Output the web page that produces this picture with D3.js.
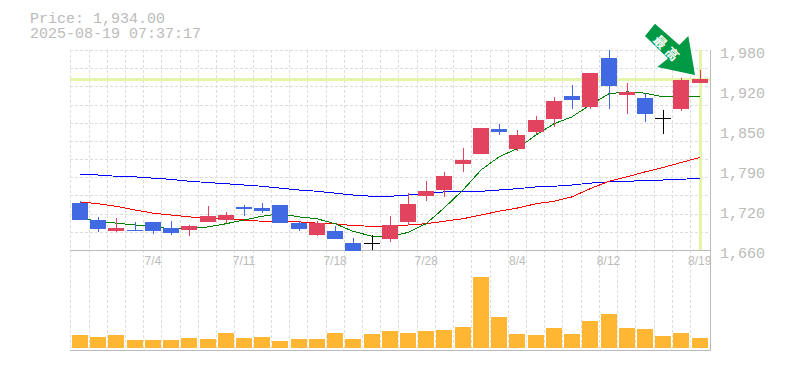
<!DOCTYPE html>
<html>
<head>
<meta charset="utf-8">
<script src="https://cdn.jsdelivr.net/npm/d3@7"></script>
<style>
  html, body { margin: 0; padding: 0; background: #fff; }
  svg { display: block; }
  text { font-family: "Liberation Mono", monospace; fill: #bbb; }
</style>
</head>
<body>
<div id="main"></div>
<script>
var dates = ["6/30","7/1","7/2","7/3","7/4","7/7","7/8","7/9","7/10","7/11",
  "7/14","7/15","7/16","7/17","7/18","7/22","7/23","7/24","7/25","7/28",
  "7/29","7/30","7/31","8/1","8/4","8/5","8/6","8/7","8/8","8/12",
  "8/13","8/14","8/15","8/18","8/19"];
var dateTicks = ["7/4","7/11","7/18","7/28","8/4","8/12","8/19"];
var priceLabels = ["1,980","1,920","1,850","1,790","1,720","1,660"];

var open = [1734.7,1708,1690.4,1692,1704.8,1695.2,1692,1704.8,1708,1728.8,
  1727.2,1732,1703.2,1684,1690.4,1671.2,1671.2,1677.6,1704.8,1746.4,
  1756,1797.6,1813.6,1853.6,1821.6,1848.8,1869.6,1906.4,1888.8,1967.2,
  1908,1903.2,1871.2,1885.6,1927.2];
var high = [1738.4,1712.3,1710.7,1704.3,1704.8,1706.4,1700,1730.4,1720.8,1732,
  1735.2,1732,1706.4,1706.4,1698.4,1679.2,1684,1714.4,1751.2,1770.4,
  1784.8,1823.2,1855.2,1861.6,1852,1874.4,1904.8,1924,1943.2,1980,
  1927.2,1911.2,1884,1935.2,1948];
var low = [1708,1689.3,1688.8,1689.9,1685.6,1684,1682.4,1704.8,1703.2,1714.4,
  1719.2,1703.2,1690.4,1682.4,1677.6,1658.4,1660,1672.8,1700,1738.4,
  1744.8,1784.8,1813.6,1844,1818.4,1845.6,1856.8,1885.6,1885.6,1885.6,
  1877.6,1864.8,1845.6,1882.4,1927.2];
var close = [1708,1693.6,1695.2,1690.4,1690.4,1687.2,1698.4,1714.4,1716,1725.6,
  1722.4,1703.2,1693.6,1703.2,1677.6,1658.4,1671.2,1700,1733.6,1754.4,
  1778.4,1804,1855.2,1848.8,1844,1868,1898.4,1900,1943.2,1922.4,
  1912.8,1877.6,1871.2,1932,1934];

var maShort = [1711,1706,1703,1700,1697,1694,1694,1697,1702,1708,
  1714,1718,1713,1710,1702,1690,1682,1682,1688,1702,
  1727,1756,1788,1809,1822,1844,1862,1873,1892,1910,
  1913,1911,1905,1905,1906];
var maMid = [1737,1734,1730,1724,1719,1716,1713,1711,1710,1708,
  1706,1705,1705,1703,1702,1699,1698,1698,1700,1702,
  1706,1710,1716,1722,1727,1734,1738,1745,1758,1770,
  1777,1785,1792,1800,1808];
var maLong = [1781,1780,1778,1777,1775,1773,1770,1768,1766,1764,
  1762,1759,1756,1754,1751,1748,1746,1746,1748,1750,
  1753,1754,1754,1756,1758,1761,1762,1764,1767,1769,
  1770,1771,1772,1773,1775];

var volume = [13,11,13,8,8,8,10,9,15,10,
  11,7,9,9,15,9,14,17,15,17,
  18,21,71,31,14,13,20,14,27,34,
  20,19,12,15,10];

var currentPrice = 1934;

var W = 785, H = 370;
var left = 70, right = 710, top_ = 50, mid = 250, bottom = 350;

var svg = d3.select("#main").append("svg")
    .attr("width", W)
    .attr("height", H);

var x = d3.scaleBand().domain(dates).range([70.8, 708.8]);
var cx = function(d) { return Math.round(x(d) + x.bandwidth() / 2); };
var y = d3.scaleLinear().domain([1660, 1980]).range([mid, top_]);
var yVol = d3.scaleLinear().domain([0, 71]).range([348, 277]);

// grid, 11 rows in the price panel, one column per day
var gridG = svg.append("g")
    .attr("stroke", "#ddd")
    .attr("stroke-dasharray", "3,2")
    .attr("shape-rendering", "crispEdges");
var rows = d3.scaleLinear().domain([0, 11]).range([top_, mid]);
gridG.selectAll("line.h").data(d3.range(0, 11)).enter().append("line")
    .attr("class", "h")
    .attr("x1", left).attr("x2", right)
    .attr("y1", function(d) { return Math.round(rows(d)) + 0.5; })
    .attr("y2", function(d) { return Math.round(rows(d)) + 0.5; });
gridG.selectAll("line.v").data(dates).enter().append("line")
    .attr("class", "v")
    .attr("y1", top_).attr("y2", bottom)
    .attr("x1", function(d) { return Math.round(x(d) - 0.5) + 0.5; })
    .attr("x2", function(d) { return Math.round(x(d) - 0.5) + 0.5; });

// current price / last day highlight
svg.append("rect")
    .attr("x", left).attr("width", right - left)
    .attr("y", Math.round(y(currentPrice)) - 1).attr("height", 3)
    .attr("fill", "#e4f5a9");
svg.append("rect")
    .attr("x", cx(dates[34]) - 1).attr("width", 3)
    .attr("y", top_).attr("height", mid - top_)
    .attr("fill", "#e4f5a9");

// panel frame
svg.append("g")
    .attr("stroke", "#bbb")
    .attr("stroke-width", 1)
    .attr("shape-rendering", "crispEdges")
    .selectAll("line")
    .data([[left, mid + 0.5, right, mid + 0.5], [left, bottom + 0.5, right, bottom + 0.5], [right + 0.5, top_, right + 0.5, bottom + 1]])
    .enter().append("line")
    .attr("x1", function(d) { return d[0]; })
    .attr("y1", function(d) { return d[1]; })
    .attr("x2", function(d) { return d[2]; })
    .attr("y2", function(d) { return d[3]; });

// volume
svg.selectAll("rect.vol").data(dates).enter().append("rect")
    .attr("class", "vol")
    .attr("x", function(d) { return cx(d) - 8; })
    .attr("width", 16)
    .attr("y", function(d, i) { return yVol(volume[i]); })
    .attr("height", function(d, i) { return yVol(0) - yVol(volume[i]); })
    .attr("fill", "#ffb733");

// moving averages go under the candles
var line = d3.line()
    .x(function(d, i) { return cx(dates[i]); })
    .y(function(d) { return y(d); });
[[maLong, "#0000ff"], [maMid, "#ff0000"], [maShort, "#008000"]].forEach(function(m) {
  svg.append("path")
      .attr("d", line(m[0]))
      .attr("fill", "none")
      .attr("stroke", m[1])
      .attr("stroke-width", 1)
      .attr("shape-rendering", "crispEdges");
});

// candles
function candleColor(i) {
  if (close[i] > open[i]) return "#e2435f";
  if (close[i] < open[i]) return "#4169e1";
  return "#000";
}
var candles = svg.selectAll("g.candle").data(dates).enter().append("g")
    .attr("class", "candle")
    .attr("shape-rendering", "crispEdges");
candles.append("line")
    .attr("x1", function(d) { return cx(d) + 0.5; })
    .attr("x2", function(d) { return cx(d) + 0.5; })
    .attr("y1", function(d, i) { return y(high[i]); })
    .attr("y2", function(d, i) { return y(low[i]); })
    .attr("stroke", function(d, i) { return candleColor(i); });
candles.append("rect")
    .attr("x", function(d) { return cx(d) - 8; })
    .attr("width", 16)
    .attr("y", function(d, i) { return Math.round(y(Math.max(open[i], close[i]))); })
    .attr("height", function(d, i) { return Math.max(1, Math.round(Math.abs(y(open[i]) - y(close[i])))); })
    .attr("fill", function(d, i) { return candleColor(i); });

// axes
var yAxis = d3.axisRight(d3.scalePoint().domain(priceLabels).range([top_, mid]))
    .tickSize(0).tickPadding(0);
var yG = svg.append("g")
    .attr("transform", "translate(720,0)")
    .call(yAxis);
yG.select(".domain").remove();
yG.selectAll("text")
    .attr("x", 0).attr("dy", null).attr("y", 7.5)
    .style("font-size", "15px");

var xAxis = d3.axisBottom(x).tickValues(dateTicks).tickSize(0).tickPadding(0);
var xG = svg.append("g")
    .call(xAxis);
xG.select(".domain").remove();
xG.selectAll("text")
    .attr("y", 265).attr("dy", null)
    .style("font-family", "'Liberation Sans', sans-serif")
    .style("font-size", "12px");

// header, one text with two lines
var header = svg.append("text").style("font-size", "15px");
header.append("tspan").attr("x", 30).attr("y", 23).text("Price: 1,934.00");
header.append("tspan").attr("x", 30).attr("y", 38).text("2025-08-19 07:37:17");

// arrow points at the last candle
var tipX = cx(dates[34]) - 5, tipY = y(high[34]) + 5;
var arrow = [[0, 0], [-37.7, -8], [-27, -16.6], [-50, -39], [-40, -51.3], [-15.7, -30], [-6.7, -39]];
svg.append("polygon")
    .attr("points", arrow.map(function(p) { return [tipX + p[0], tipY + p[1]].join(","); }).join(" "))
    .attr("fill", "#009944");
svg.selectAll("text.tag").data(["最", "高"]).enter().append("text")
    .attr("class", "tag")
    .attr("text-anchor", "middle")
    .attr("transform", function(d, i) {
      return "translate(" + (tipX - 35 + i * 12) + "," + (tipY - 33 + i * 12) + ") rotate(45)";
    })
    .style("font-family", "'Noto Sans CJK JP', sans-serif")
    .style("font-size", "13px")
    .style("font-weight", "bold")
    .style("fill", "#fff")
    .attr("dy", "0.35em")
    .text(function(d) { return d; });
</script>
</body>
</html>
